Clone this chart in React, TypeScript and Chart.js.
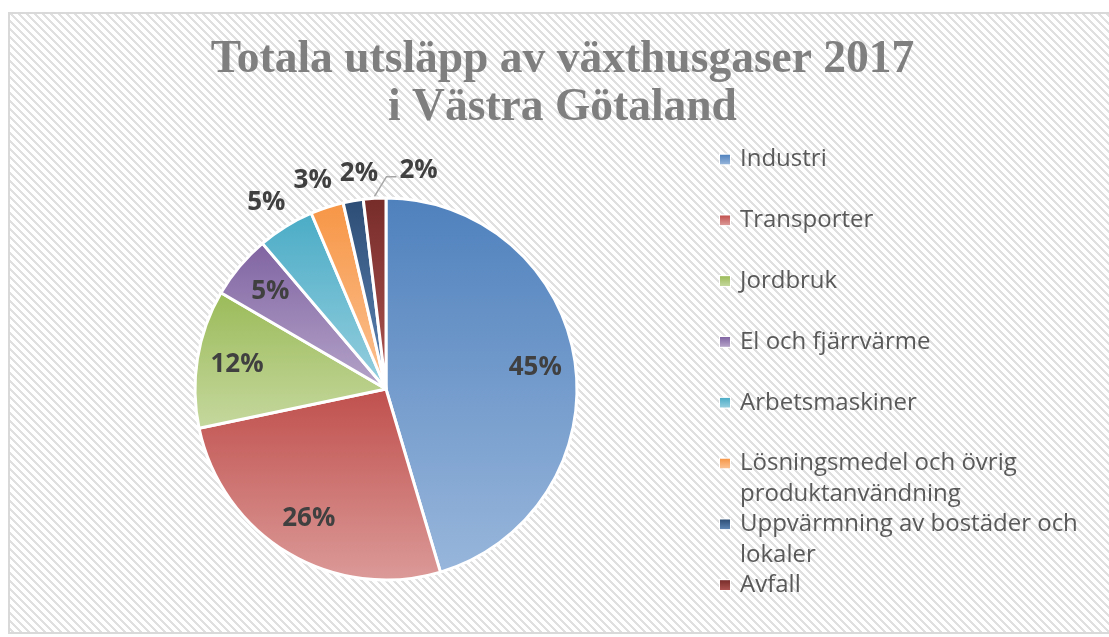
import { useEffect, useRef } from 'react';
import { Chart, registerables } from 'chart.js';

Chart.register(...registerables);

const categories = [
  'Industri',
  'Transporter',
  'Jordbruk',
  'El och fjärrvärme',
  'Arbetsmaskiner',
  'Lösningsmedel och övrig produktanvändning',
  'Uppvärmning av bostäder och lokaler',
  'Avfall',
];
const shares = [45.4, 26.3, 11.7, 5.4, 4.8, 2.8, 1.7, 1.9];
const titleLines = ['Totala utsläpp av växthusgaser 2017', 'i Västra Götaland'];
const baseColors = ['#4F81BD', '#C0504D', '#9BBB59', '#8064A2', '#4BACC6', '#F79646', '#2C4D75', '#772C2A'];
const lightColors = ['#98B6DB', '#DB9A98', '#C5D89E', '#B5A4C9', '#96CFDF', '#FBC293', '#5F86B6', '#AD5552'];

const PIE_RADIUS = 191;
const total = shares.reduce((a, b) => a + b, 0);

function sliceAngles(i: number) {
  let start = 0;
  for (let k = 0; k < i; k++) start += shares[k];
  const a0 = -Math.PI / 2 + (2 * Math.PI * start) / total;
  const a1 = a0 + (2 * Math.PI * shares[i]) / total;
  return { a0, a1 };
}

function sliceGradient(ctx: CanvasRenderingContext2D, i: number, cy: number, r: number) {
  const { a0, a1 } = sliceAngles(i);
  let minY = cy;
  let maxY = cy;
  for (let k = 0; k <= 60; k++) {
    const a = a0 + ((a1 - a0) * k) / 60;
    const y = cy + r * Math.sin(a);
    if (y < minY) minY = y;
    if (y > maxY) maxY = y;
  }
  const g = ctx.createLinearGradient(0, minY, 0, maxY);
  g.addColorStop(0, baseColors[i]);
  g.addColorStop(1, lightColors[i]);
  return g;
}

const backgroundPlugin = {
  id: 'bgPattern',
  beforeDraw(chart: any) {
    const { ctx, width, height } = chart;
    ctx.save();
    const tile = document.createElement('canvas');
    tile.width = 8;
    tile.height = 8;
    const tctx = tile.getContext('2d')!;
    tctx.fillStyle = '#FFFFFF';
    tctx.fillRect(0, 0, 8, 8);
    tctx.fillStyle = '#E0E0E0';
    for (let y = 0; y < 8; y++) {
      for (let x = 0; x < 8; x++) {
        if ((((x - y) % 8) + 8) % 8 < 3) tctx.fillRect(x, y, 1, 1);
      }
    }
    const pattern = ctx.createPattern(tile, 'repeat');
    ctx.fillStyle = pattern;
    ctx.fillRect(0, 0, width, height);
    ctx.strokeStyle = '#D9D9D9';
    ctx.lineWidth = 2;
    ctx.beginPath();
    ctx.moveTo(1, height);
    ctx.lineTo(1, 1);
    ctx.lineTo(width, 1);
    ctx.moveTo(0, height - 1);
    ctx.lineTo(width, height - 1);
    ctx.stroke();
    ctx.restore();
  },
};

const titlePlugin = {
  id: 'chartTitle',
  afterDraw(chart: any) {
    const { ctx, width } = chart;
    ctx.save();
    ctx.font = 'bold 45.5px "Liberation Serif"';
    ctx.fillStyle = '#7F7F7F';
    ctx.textAlign = 'center';
    ctx.textBaseline = 'alphabetic';
    titleLines.forEach((ln, j) => {
      ctx.fillText(ln, width / 2, 60 + j * 48);
    });
    ctx.restore();
  },
};

type OutLabel = { text: string; lx: number; ly: number; w: number; mid: number };

const labelPlugin = {
  id: 'sliceLabels',
  afterDatasetsDraw(chart: any) {
    const { ctx } = chart;
    const meta = chart.getDatasetMeta(0);
    ctx.save();
    ctx.font = 'bold 26px "Open Sans"';
    ctx.fillStyle = '#404040';
    ctx.textBaseline = 'middle';
    const outs: OutLabel[] = [];
    const leaders: any[] = [];
    const minGap = (7.3 * Math.PI) / 180;
    meta.data.forEach((el: any, i: number) => {
      const { x, y, startAngle, endAngle, outerRadius } = el.getProps(
        ['x', 'y', 'startAngle', 'endAngle', 'outerRadius'],
        true
      );
      const mid = (startAngle + endAngle) / 2;
      const text = Math.round((shares[i] / total) * 100) + '%';
      const w = ctx.measureText(text).width;
      if (shares[i] >= 5) {
        const r = outerRadius * 0.79;
        ctx.textAlign = 'center';
        ctx.fillText(text, x + Math.cos(mid) * r, y + Math.sin(mid) * r);
        return;
      }
      const r = outerRadius * 1.145;
      const lx = x + Math.cos(mid) * r;
      const ly = y + Math.sin(mid) * r;
      const prev = outs[outs.length - 1];
      if (prev && mid - prev.mid < minGap) {
        leaders.push({ text, w, ly, sx: x + Math.cos(mid) * (outerRadius + 2), sy: y + Math.sin(mid) * (outerRadius + 2) });
      } else {
        outs.push({ text, lx, ly, w, mid });
      }
    });
    // spread neighbouring outside labels so they do not touch
    for (let it = 0; it < 20; it++) {
      for (let k = 0; k < outs.length - 1; k++) {
        const a = outs[k];
        const b = outs[k + 1];
        const gap = b.lx - b.w / 2 - (a.lx + a.w / 2);
        if (gap < 8) {
          const d = (8 - gap) / 2;
          a.lx -= d;
          b.lx += d;
        }
      }
    }
    ctx.textAlign = 'center';
    outs.forEach((o) => ctx.fillText(o.text, o.lx, o.ly));
    leaders.forEach((L) => {
      const bx = L.sx + 12;
      const by = L.ly + 6;
      const ex = bx + 10;
      ctx.strokeStyle = '#A6A6A6';
      ctx.lineWidth = 1.5;
      ctx.beginPath();
      ctx.moveTo(L.sx, L.sy);
      ctx.lineTo(bx, by);
      ctx.lineTo(ex, by);
      ctx.stroke();
      ctx.textAlign = 'left';
      ctx.fillText(L.text, ex + 3, L.ly);
    });
    ctx.restore();
  },
};

function wrapText(ctx: CanvasRenderingContext2D, text: string, maxW: number) {
  const words = text.split(' ');
  const lines: string[] = [];
  let cur = '';
  words.forEach((wd) => {
    const test = cur ? cur + ' ' + wd : wd;
    if (cur && ctx.measureText(test).width > maxW) {
      lines.push(cur);
      cur = wd;
    } else cur = test;
  });
  if (cur) lines.push(cur);
  return lines;
}

const legendPlugin = {
  id: 'sideLegend',
  afterDraw(chart: any) {
    const { ctx } = chart;
    const boxX = 712;
    const textX = 732;
    const y0 = 147.5;
    const step = 60.8;
    const lineH = 30.5;
    const maxW = 362;
    ctx.save();
    ctx.font = '24px "Open Sans"';
    ctx.textBaseline = 'middle';
    ctx.textAlign = 'left';
    categories.forEach((name, i) => {
      const cy = y0 + i * step;
      const g = ctx.createLinearGradient(0, cy - 5, 0, cy + 5);
      g.addColorStop(0, baseColors[i]);
      g.addColorStop(1, lightColors[i]);
      ctx.fillStyle = g;
      ctx.fillRect(boxX, cy - 5, 10, 10);
      ctx.strokeStyle = '#FFFFFF';
      ctx.lineWidth = 1;
      ctx.strokeRect(boxX - 0.5, cy - 5.5, 11, 11);
      ctx.fillStyle = '#595959';
      wrapText(ctx, name, maxW).forEach((ln, j) => {
        ctx.fillText(ln, textX, cy + j * lineH);
      });
    });
    ctx.restore();
  },
};

export default function App() {
  const canvasRef = useRef<HTMLCanvasElement | null>(null);

  useEffect(() => {
    if (!canvasRef.current) return;
    const chart = new Chart(canvasRef.current, {
      type: 'pie',
      data: {
        labels: categories,
        datasets: [
          {
            data: shares,
            radius: PIE_RADIUS,
            backgroundColor: (c: any) => {
              const i = c.dataIndex;
              if (i === undefined) return baseColors[0];
              const area = c.chart.chartArea;
              if (!area) return baseColors[i];
              const cy = (area.top + area.bottom) / 2;
              return sliceGradient(c.chart.ctx, i, cy, PIE_RADIUS);
            },
            borderColor: '#FFFFFF',
            borderWidth: 3,
            hoverOffset: 0,
            offset: 0,
          } as any,
        ],
      },
      options: {
        animation: false,
        responsive: true,
        maintainAspectRatio: false,
        events: [],
        layout: { padding: { left: 185, right: 538, top: 184, bottom: 52 } },
        plugins: {
          legend: { display: false },
          tooltip: { enabled: false },
          title: { display: false },
        },
      },
      plugins: [backgroundPlugin, labelPlugin, legendPlugin, titlePlugin],
    });
    return () => chart.destroy();
  }, []);

  return (
    <div style={{ position: 'fixed', left: 0, top: 0, width: 1109, height: 637, overflow: 'hidden', background: '#fff' }}>
      <div style={{ position: 'absolute', left: 8, top: 12, width: 1109, height: 622 }}>
        <canvas ref={canvasRef} />
      </div>
    </div>
  );
}
